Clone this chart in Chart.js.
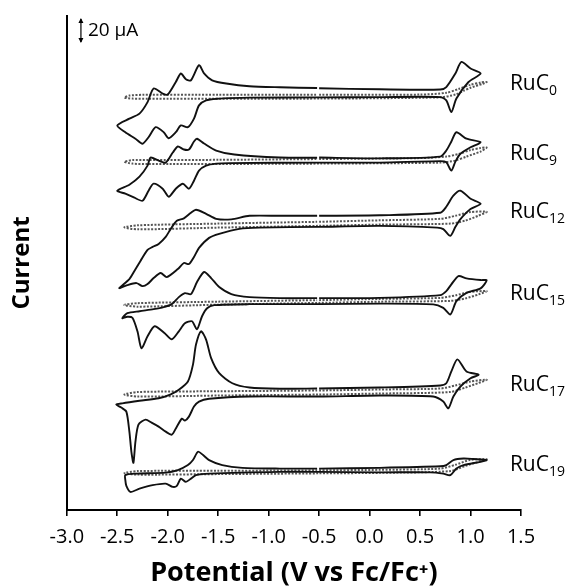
<!DOCTYPE html>
<html>
<head>
<meta charset="utf-8">
<script src="https://cdn.jsdelivr.net/npm/chart.js@4.4.1/dist/chart.umd.min.js"></script>
<style>
  body { margin: 0; background: #fff; }
  #chart { display: block; }
</style>
</head>
<body>
<canvas id="chart" width="570" height="587"></canvas>
<script>
// x: potential (V vs Fc/Fc+), y: stacked current (µA)
const xTicks = [-3.0, -2.5, -2.0, -1.5, -1.0, -0.5, 0.0, 0.5, 1.0, 1.5];
const compoundName = 'RuC';
const subscripts = ['0', '9', '12', '15', '17', '19'];
const scaleBarCurrent = 20;

const cvRuC0 = [[-0.50, 336.0], [0.10, 335.2], [0.70, 335.0], [0.76, 337.0], [0.85, 347.8], [0.91, 357.0], [1.00, 351.8], [1.10, 347.8],
  [0.98, 341.0], [0.86, 327.8], [0.81, 317.0], [0.76, 326.4], [0.70, 329.0], [0.10, 329.0], [-0.50, 328.8], [-1.19, 328.6],
  [-1.39, 328.2], [-1.49, 327.8], [-1.62, 326.4], [-1.69, 322.4], [-1.74, 311.8], [-1.80, 305.0], [-1.87, 306.4], [-1.92, 301.0],
  [-1.99, 296.2], [-2.04, 301.0], [-2.12, 305.0], [-2.19, 297.0], [-2.25, 291.8], [-2.32, 295.8], [-2.42, 301.0], [-2.50, 306.4],
  [-2.38, 311.8], [-2.28, 315.8], [-2.20, 325.0], [-2.14, 335.8], [-2.05, 331.8], [-2.00, 331.0], [-1.92, 341.0], [-1.87, 347.8],
  [-1.82, 343.2], [-1.77, 342.4], [-1.69, 354.4], [-1.64, 347.8], [-1.56, 342.4], [-1.42, 339.8], [-1.19, 337.6], [-0.89, 336.8], [-0.52, 336.2]];
const cvRuC9 = [[-0.50, 280.8], [0.10, 280.2], [0.70, 281.6], [0.76, 286.4], [0.81, 293.6], [0.86, 301.0], [0.96, 295.8], [1.10, 293.0],
  [1.00, 289.0], [0.90, 283.8], [0.85, 277.6], [0.81, 270.4], [0.76, 277.0], [0.70, 278.0], [0.10, 276.8], [-0.50, 276.8],
  [-1.39, 276.4], [-1.52, 276.0], [-1.62, 274.4], [-1.69, 270.4], [-1.74, 262.4], [-1.79, 256.0], [-1.85, 260.0], [-1.92, 256.0],
  [-1.99, 249.6], [-2.05, 256.0], [-2.14, 260.0], [-2.19, 254.4], [-2.25, 246.4], [-2.33, 248.8], [-2.42, 252.0], [-2.50, 254.4],
  [-2.38, 259.2], [-2.28, 265.6], [-2.20, 274.4], [-2.17, 280.8], [-2.09, 278.4], [-2.02, 276.8], [-1.95, 284.8], [-1.90, 289.6],
  [-1.84, 287.2], [-1.79, 287.2], [-1.74, 293.6], [-1.71, 295.8], [-1.64, 292.0], [-1.52, 286.4], [-1.34, 283.2], [-0.89, 280.8], [-0.52, 280.6]];
const cvRuC12 = [[-0.50, 234.4], [0.10, 234.8], [0.70, 236.8], [0.76, 241.6], [0.83, 250.4], [0.90, 254.4], [1.00, 248.0], [1.10, 244.0],
  [1.00, 239.8], [0.90, 231.8], [0.85, 225.6], [0.80, 218.4], [0.73, 223.8], [0.67, 225.0], [0.10, 226.4], [-0.50, 225.6],
  [-1.09, 225.0], [-1.29, 224.0], [-1.49, 220.0], [-1.59, 216.8], [-1.69, 208.8], [-1.74, 201.6], [-1.79, 196.0], [-1.84, 196.8],
  [-1.90, 192.0], [-2.01, 185.6], [-2.07, 188.8], [-2.14, 184.8], [-2.20, 180.0], [-2.25, 178.4], [-2.31, 180.8], [-2.40, 179.2],
  [-2.48, 176.8], [-2.38, 184.0], [-2.33, 190.4], [-2.27, 198.4], [-2.20, 207.2], [-2.15, 209.6], [-2.09, 212.0], [-2.02, 217.6],
  [-1.97, 224.0], [-1.91, 230.4], [-1.84, 232.4], [-1.77, 236.8], [-1.72, 239.2], [-1.62, 236.0], [-1.52, 232.0], [-1.37, 231.6],
  [-1.19, 234.4], [-0.89, 234.4], [-0.52, 234.4]];
const cvRuC15 = [[-0.50, 168.8], [0.10, 169.0], [0.70, 171.2], [0.76, 174.4], [0.81, 179.8], [0.88, 186.4], [0.96, 184.6], [1.10, 183.2],
  [1.16, 183.0], [1.10, 176.6], [0.96, 173.0], [0.86, 166.4], [0.80, 155.8], [0.73, 161.0], [0.63, 163.8], [0.10, 164.4],
  [-0.50, 164.0], [-1.19, 164.0], [-1.54, 163.2], [-1.61, 160.8], [-1.66, 154.4], [-1.71, 144.0], [-1.76, 150.4], [-1.83, 148.8],
  [-1.89, 142.4], [-1.96, 136.0], [-2.03, 140.8], [-2.13, 146.4], [-2.20, 138.4], [-2.26, 128.8], [-2.30, 142.4], [-2.35, 153.2],
  [-2.40, 154.0], [-2.45, 152.8], [-2.40, 156.8], [-2.28, 158.4], [-2.14, 160.0], [-2.04, 161.6], [-1.96, 164.0], [-1.89, 169.6],
  [-1.83, 172.8], [-1.77, 172.0], [-1.71, 181.6], [-1.64, 189.6], [-1.57, 184.8], [-1.49, 177.6], [-1.37, 172.0], [-1.19, 169.6],
  [-0.89, 168.8], [-0.52, 168.8]];
const cvRuC17 = [[-0.50, 96.8], [0.10, 97.6], [0.70, 99.2], [0.76, 101.0], [0.81, 110.4], [0.87, 120.0], [0.96, 110.4], [1.08, 107.8],
  [1.00, 105.0], [0.90, 98.4], [0.83, 90.4], [0.78, 81.0], [0.73, 86.4], [0.63, 90.4], [0.10, 91.2], [-0.50, 90.4],
  [-1.19, 90.4], [-1.59, 88.6], [-1.69, 86.4], [-1.74, 82.4], [-1.79, 74.4], [-1.83, 71.2], [-1.86, 72.8], [-1.91, 66.4],
  [-1.96, 60.0], [-2.02, 62.4], [-2.09, 66.4], [-2.16, 69.6], [-2.22, 72.0], [-2.29, 68.0], [-2.32, 54.4], [-2.34, 37.6],
  [-2.36, 46.4], [-2.38, 62.4], [-2.41, 78.4], [-2.46, 81.6], [-2.51, 84.0], [-2.45, 85.0], [-2.28, 87.0], [-2.09, 89.0],
  [-1.97, 92.2], [-1.89, 95.8], [-1.80, 102.4], [-1.75, 115.8], [-1.72, 131.8], [-1.67, 142.4], [-1.62, 135.8], [-1.57, 121.0],
  [-1.49, 109.0], [-1.36, 101.0], [-1.19, 97.6], [-0.89, 96.6], [-0.52, 96.8]];
const cvRuC19 = [[-0.50, 33.0], [0.10, 33.6], [0.70, 34.8], [0.76, 35.8], [0.83, 39.8], [0.93, 41.0], [1.03, 40.6], [1.16, 39.8],
  [1.10, 38.4], [0.93, 35.8], [0.86, 33.0], [0.80, 27.8], [0.73, 29.0], [0.60, 30.0], [0.10, 30.0], [-0.50, 30.4],
  [-0.89, 30.4], [-1.59, 29.0], [-1.72, 27.8], [-1.77, 25.0], [-1.82, 22.4], [-1.87, 25.0], [-1.91, 19.2], [-1.95, 18.4],
  [-2.02, 21.0], [-2.15, 19.8], [-2.28, 17.0], [-2.37, 14.4], [-2.41, 19.2], [-2.42, 23.8], [-2.42, 27.8], [-2.32, 29.0],
  [-2.02, 29.8], [-1.90, 31.8], [-1.80, 35.8], [-1.75, 39.8], [-1.70, 46.4], [-1.65, 43.8], [-1.59, 39.8], [-1.46, 35.8],
  [-1.26, 33.6], [-0.89, 33.0], [-0.52, 33.0]];

// dotted background scans
const blankRuC0 = [[-0.50, 330.8], [0.50, 331.0], [0.76, 332.4], [0.88, 335.4], [1.00, 338.8], [1.10, 340.6], [1.16, 341.0], [1.12, 339.6],
  [1.00, 336.4], [0.93, 334.0], [0.85, 331.0], [0.70, 328.8], [-0.50, 327.8], [-2.20, 327.6], [-2.35, 327.8], [-2.43, 328.6],
  [-2.38, 330.2], [-2.25, 330.8], [-1.50, 330.8], [-0.52, 330.8]];
const blankRuC9 = [[-0.50, 279.6], [0.50, 280.4], [0.76, 281.6], [0.88, 283.6], [1.00, 286.8], [1.10, 288.4], [1.16, 288.8], [1.10, 285.6],
  [0.96, 281.6], [0.85, 278.4], [0.70, 276.8], [-0.50, 276.0], [-2.20, 275.6], [-2.35, 276.0], [-2.43, 277.4],
  [-2.35, 278.8], [-2.20, 278.8], [-1.50, 279.0], [-0.52, 279.6]];
const blankRuC12 = [[-0.50, 229.6], [0.10, 230.8], [0.70, 232.0], [0.85, 234.4], [1.00, 237.4], [1.16, 237.6], [1.08, 234.6], [0.95, 230.6],
  [0.80, 228.2], [0.10, 227.4], [-0.50, 226.4], [-1.50, 225.0], [-2.30, 223.6], [-2.43, 225.2], [-2.30, 226.8], [-1.50, 228.2], [-0.52, 229.6]];
const blankRuC15 = [[-0.50, 167.2], [0.10, 168.2], [0.70, 169.0], [0.85, 171.0], [1.00, 173.8], [1.16, 174.4], [1.08, 171.8], [0.95, 168.6],
  [0.80, 166.6], [0.10, 166.0], [-0.50, 165.0], [-1.50, 163.6], [-2.30, 162.0], [-2.43, 163.4], [-2.30, 164.8], [-1.50, 166.0], [-0.52, 167.2]];
const blankRuC17 = [[-0.50, 95.2], [0.10, 96.0], [0.70, 96.8], [0.85, 99.2], [1.00, 102.4], [1.16, 103.8], [1.08, 101.2], [0.95, 97.6],
  [0.80, 94.0], [0.10, 92.8], [-0.50, 92.0], [-1.50, 91.2], [-2.30, 90.4], [-2.43, 92.0], [-2.30, 94.0], [-1.50, 94.6], [-0.52, 95.2]];
const blankRuC19 = [[-0.50, 31.6], [0.10, 32.0], [0.70, 33.0], [0.85, 36.0], [1.00, 40.0], [1.16, 40.4], [1.08, 38.4], [0.95, 35.2],
  [0.80, 31.0], [0.10, 29.6], [-0.50, 29.2], [-1.50, 28.6], [-2.30, 28.2], [-2.43, 29.4], [-2.30, 31.0], [-1.50, 31.2], [-0.52, 31.6]];

const scans = [cvRuC0, cvRuC9, cvRuC12, cvRuC15, cvRuC17, cvRuC19];
const blanks = [blankRuC0, blankRuC9, blankRuC12, blankRuC15, blankRuC17, blankRuC19];

const FONT = '"Open Sans", "Liberation Sans", sans-serif';
const toPoints = arr => arr.map(([x, y]) => ({ x: x, y: y }));

const datasets = [];
scans.forEach((s, i) => {
    datasets.push({
        label: compoundName + subscripts[i],
        data: toPoints(s),
        showLine: true,
        borderColor: '#111',
        borderWidth: 1.9,
        pointRadius: 0,
        tension: 0.25,
        fill: false
    });
});
blanks.forEach((s, i) => {
    datasets.push({
        label: compoundName + subscripts[i] + ' blank',
        data: toPoints(s),
        showLine: true,
        borderColor: '#555',
        borderWidth: 2,
        borderDash: [2, 1.5],
        pointRadius: 0,
        tension: 0.25,
        fill: false
    });
});

// labels on the right and the 20 µA scale bar
const overlay = {
    id: 'overlay',
    afterDatasetsDraw(chart) {
        const { ctx, scales: { x, y } } = chart;
        ctx.save();
        ctx.fillStyle = '#000';
        ctx.textBaseline = 'alphabetic';
        ctx.textAlign = 'left';
        scans.forEach((s, i) => {
            const px = x.getPixelForValue(1.39);
            const py = y.getPixelForValue(s[0][1]) + 2;
            ctx.font = '21px ' + FONT;
            ctx.fillText(compoundName, px, py);
            const w = ctx.measureText(compoundName).width;
            ctx.font = '14px ' + FONT;
            ctx.fillText(subscripts[i], px + w, py + 5);
        });

        const bx = x.getPixelForValue(-2.86);
        const top = y.getPixelForValue(y.max - 1.6);
        const bottom = y.getPixelForValue(y.max - 1.6 - scaleBarCurrent);
        ctx.strokeStyle = '#000';
        ctx.lineWidth = 1.2;
        ctx.beginPath();
        ctx.moveTo(bx, top + 1);
        ctx.lineTo(bx, bottom - 1);
        ctx.stroke();
        ctx.beginPath();
        ctx.moveTo(bx, top); ctx.lineTo(bx - 2.5, top + 5); ctx.lineTo(bx + 2.5, top + 5); ctx.closePath();
        ctx.moveTo(bx, bottom); ctx.lineTo(bx - 2.5, bottom - 5); ctx.lineTo(bx + 2.5, bottom - 5); ctx.closePath();
        ctx.fill();
        ctx.font = '19px ' + FONT;
        ctx.textBaseline = 'middle';
        ctx.fillText(scaleBarCurrent + ' µA', bx + 7, (top + bottom) / 2);
        ctx.restore();
    }
};

new Chart(document.getElementById('chart'), {
    type: 'scatter',
    data: { datasets: datasets },
    options: {
        responsive: false,
        animation: false,
        layout: { padding: { top: 16, right: 49, bottom: 0, left: 8 } },
        plugins: {
            legend: { display: false },
            tooltip: { enabled: false }
        },
        scales: {
            x: {
                type: 'linear',
                min: -3,
                max: 1.5,
                afterBuildTicks: axis => { axis.ticks = xTicks.map(v => ({ value: v })); },
                ticks: {
                    color: '#000',
                    font: { family: FONT, size: 20 },
                    padding: 9,
                    maxRotation: 0,
                    autoSkip: false,
                    callback: v => Number(v).toFixed(1)
                },
                grid: { drawOnChartArea: false, drawTicks: true, tickLength: 6, color: '#000', lineWidth: 1.6 },
                border: { display: true, color: '#000', width: 2 },
                title: {
                    display: true,
                    text: 'Potential (V vs Fc/Fc\u207A)',
                    color: '#000',
                    font: { family: FONT, size: 27, weight: 'bold', lineHeight: 1 },
                    padding: { top: 2, bottom: 0 }
                }
            },
            y: {
                type: 'linear',
                min: 0,
                max: 393.6,
                ticks: { display: false },
                grid: { display: false },
                border: { display: true, color: '#000', width: 2 },
                title: {
                    display: true,
                    text: 'Current',
                    color: '#000',
                    font: { family: FONT, size: 24, weight: 'bold' },
                    padding: { top: 0, bottom: 22 }
                }
            }
        }
    },
    plugins: [overlay]
});
</script>
</body>
</html>
